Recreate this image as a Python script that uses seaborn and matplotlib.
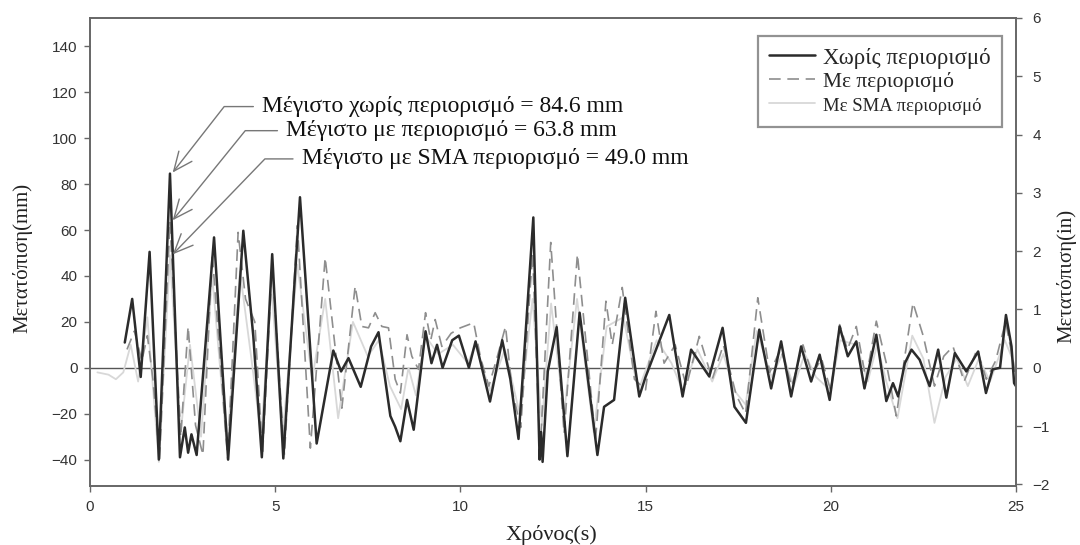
import matplotlib
matplotlib.use("Agg")
import matplotlib.pyplot as plt
import seaborn as sns

# time (s) and displacement (mm)
# Χωρίς περιορισμό
t_free = [
    0.94, 1.14, 1.37, 1.61, 1.86, 2.16, 2.43, 2.56, 2.65, 2.74,
    2.88, 3.35, 3.73, 4.14, 4.41, 4.64, 4.92, 5.22, 5.67, 6.12,
    6.57, 6.78, 6.98, 7.31, 7.59, 7.79, 8.11, 8.24, 8.38, 8.56,
    8.74, 9.06, 9.22, 9.37, 9.52, 9.78, 9.96, 10.23, 10.41, 10.80,
    11.13, 11.35, 11.57, 11.97, 12.14, 12.18, 12.22, 12.36, 12.60, 12.89,
    13.22, 13.70, 13.88, 14.15, 14.45, 14.83, 15.00, 15.64, 16.00, 16.23,
    16.72, 17.08, 17.40, 17.71, 18.07, 18.39, 18.66, 18.93, 19.20, 19.47,
    19.70, 19.97, 20.24, 20.46, 20.69, 20.91, 21.23, 21.50, 21.68, 21.82,
    22.00, 22.18, 22.40, 22.67, 22.90, 23.12, 23.35, 23.66, 23.98, 24.19,
    24.37, 24.57, 24.73, 24.88, 24.95, 25.00]
d_free = [
    11, 30, -4, 50.5, -40, 84.6, -39, -26, -37, -29,
    -38, 56.8, -40, 59.7, 13.7, -39, 49.5, -39.5, 74.3, -33,
    7.5, -1.6, 4.2, -8.3, 9.3, 15.5, -21, -25.7, -32, -14,
    -27, 15.9, 2, 10, 0, 12, 14, 0, 11.5, -14.7,
    12, -5, -31, 65.5, -40, -28, -41, -1.6, 17.7, -38.5,
    24, -38, -17, -14, 30.5, -12.5, -4, 23, -12.5, 7.9,
    -3.8, 17.4, -17, -24, 16.6, -9, 11.5, -12.5, 9.3, -6,
    5.7, -14, 18, 5, 11.5, -9, 14.4, -14.5, -6.7, -12.5,
    2, 7.9, 3.5, -8, 7.9, -13, 6.4, -1.6, 7.1, -11,
    -0.7, 0, 23, 9.3, -6.7, -8]

# Με περιορισμό
t_restr = [
    1.00, 1.20, 1.40, 1.55, 1.70, 1.88, 2.16, 2.45, 2.65, 2.85,
    3.05, 3.30, 3.72, 4.00, 4.20, 4.45, 4.66, 4.92, 5.25, 5.60,
    5.95, 6.35, 6.55, 6.80, 7.16, 7.34, 7.52, 7.70, 7.88, 8.06,
    8.24, 8.38, 8.56, 8.69, 8.87, 9.06, 9.20, 9.32, 9.50, 9.75,
    10.00, 10.36, 10.55, 10.77, 11.00, 11.22, 11.40, 11.63, 11.95, 12.15,
    12.44, 12.80, 13.16, 13.65, 13.93, 14.10, 14.37, 14.70, 15.00, 15.28,
    15.50, 15.80, 16.10, 16.45, 16.80, 17.10, 17.45, 17.70, 18.03, 18.35,
    18.65, 18.95, 19.25, 19.50, 19.75, 20.00, 20.24, 20.45, 20.69, 20.95,
    21.23, 21.50, 21.77, 22.00, 22.22, 22.50, 22.80, 23.05, 23.30, 23.60,
    23.95, 24.20, 24.45, 24.72, 24.90, 25.00]
d_restr = [
    8, 16, 3, 14, -5, -40, 63.8, -30, 18, -25,
    -38, 50, -40, 59, 30, 20, -38, 45, -38, 62,
    -35, 48, 19, -17.6, 35.6, 18, 17.4, 24, 18, 17.4,
    -5, -11, 14.4, 5, -0.7, 24, 12, 21, 9.3, 15,
    17.4, 19.6, 4, -8, 5, 18, -10, -26, 50, -38,
    54.6, -28.6, 49.5, -31.5, 29, 10, 35, -5, -9.6, 24.6,
    2, 10, -8, 13.7, -5, 10, -12, -20, 30.5, -2,
    8, -8, 10, -3, 4, -10, 18.8, 8, 18, -5,
    20.3, 2, -21, 5, 28.3, 13.7, -8, 5, 9.3, -6,
    8, -5, 3, 20, 5, -5]

# Με SMA περιορισμό
t_sma = [
    0.20, 0.50, 0.70, 0.90, 1.10, 1.30, 1.55, 1.86, 2.16, 2.45,
    2.70, 3.00, 3.30, 3.70, 4.05, 4.35, 4.62, 4.90, 5.20, 5.60,
    6.00, 6.35, 6.70, 7.10, 7.50, 7.80, 8.10, 8.40, 8.60, 8.80,
    9.05, 9.40, 9.80, 10.20, 10.40, 10.80, 11.20, 11.60, 11.95, 12.20,
    12.45, 12.80, 13.15, 13.60, 13.95, 14.40, 14.80, 15.30, 15.70, 16.00,
    16.40, 16.80, 17.10, 17.40, 17.70, 18.00, 18.40, 18.70, 19.00, 19.30,
    19.60, 20.00, 20.25, 20.70, 21.00, 21.25, 21.50, 21.80, 22.20, 22.50,
    22.80, 23.10, 23.40, 23.70, 24.00, 24.30, 24.70, 25.00]
d_sma = [
    -2, -3, -5, -2, 10, -6, 22, -41, 49.0, -28,
    10, -30, 40, -35, 42, 5, -30, 35, -30, 45,
    -5, 30, -22, 20, 5, 12, -8, -18, 0, -12,
    14, 6, 10, 2, 10, -10, 8, -20, 30, -25,
    28, -20, 30, -28, 18, 22, -10, 12, 2, -10,
    8, -6, 6, -10, -16, 16, -4, 6, -8, 6,
    -4, -10, 12, 10, -6, 10, -6, -22, 14, 4,
    -24, -4, 4, -8, 4, -6, 12, 0]

labels = ['Χωρίς περιορισμό', 'Με περιορισμό', 'Με SMA περιορισμό']
left_ticks = [-40, -20, 0, 20, 40, 60, 80, 100, 120, 140]
right_ticks = [-2, -1, 0, 1, 2, 3, 4, 5, 6]
x_ticks = [0, 5, 10, 15, 20, 25]
MM_PER_IN = 25.4

sns.set_style("white")
plt.rcParams['font.family'] = ['Liberation Serif', 'DejaVu Serif']

fig = plt.figure(figsize=(10.8, 5.45), dpi=100)
ax = fig.add_axes([0.0833, 0.1083, 0.8574, 0.8587])

sns.lineplot(x=t_sma, y=d_sma, ax=ax, color='#d8d8d8', lw=1.3,
             label=labels[2], estimator=None, sort=False)
sns.lineplot(x=t_restr, y=d_restr, ax=ax, color='#8e8e8e', lw=1.2,
             linestyle=(0, (7, 4)), label=labels[1], estimator=None, sort=False)
sns.lineplot(x=t_free, y=d_free, ax=ax, color='#2b2b2b', lw=1.8,
             label=labels[0], estimator=None, sort=False)

ax.axhline(0, color='#555555', lw=1, zorder=1)

ax.set_xlim(0, 25)
ax.set_ylim(-51.5, 152.4)
ax.set_xticks(x_ticks)
ax.set_yticks(left_ticks)
ax.set_xlabel('')
ax.set_ylabel('')

ax2 = ax.twinx()
ax2.set_ylim(-51.5 / MM_PER_IN, 152.4 / MM_PER_IN)
ax2.set_yticks(right_ticks)

for a in (ax, ax2):
    for sp in a.spines.values():
        sp.set_color('#666666')
        sp.set_linewidth(1.2)
    a.tick_params(direction='out', length=4, width=1, color='#666666',
                  labelcolor='#333333', labelsize=11,
                  labelfontfamily='Liberation Sans')
ax.tick_params(axis='y', left=True, pad=5)
ax.tick_params(axis='x', bottom=True, pad=6)
ax2.tick_params(axis='y', right=True, pad=8)

fig.text(22 / 1080, 1 - 258 / 545, 'Μετατόπιση(mm)', rotation=90,
         ha='center', va='center', fontsize=15, color='#222222')
fig.text(1066 / 1080, 1 - 276 / 545, 'Μετατόπιση(in)', rotation=90,
         ha='center', va='center', fontsize=15, color='#222222')
fig.text(551 / 1080, 1 - 535 / 545, 'Χρόνος(s)',
         ha='center', va='center', fontsize=16, color='#222222')

# legend: black, dashed, SMA order
handles, labs = ax.get_legend_handles_labels()
order = [labs.index(l) for l in labels]
leg = ax.legend([handles[i] for i in order], [labs[i] for i in order],
                loc='upper right', bbox_to_anchor=(0.985, 0.9615),
                borderaxespad=0, frameon=True, fancybox=False,
                edgecolor='#777777', handlelength=2.0, handletextpad=0.35,
                borderpad=0.5, labelspacing=0.12, fontsize=16.5)
leg.get_frame().set_linewidth(1.6)
leg.get_texts()[1].set_fontsize(15.5)
leg.get_texts()[2].set_fontsize(13.5)

# peak annotations
peaks = [
    (t_free[d_free.index(max(d_free))], max(d_free),
     'Μέγιστο χωρίς περιορισμό = {:.1f} mm', 4.65, 113.8, 52),
    (t_restr[d_restr.index(max(d_restr))], max(d_restr),
     'Μέγιστο με περιορισμό = {:.1f} mm', 5.30, 103.3, 51),
    (t_sma[d_sma.index(max(d_sma))], max(d_sma),
     'Μέγιστο με SMA περιορισμό = {:.1f} mm', 5.72, 91.0, 46),
]
for tp, vp, txt, tx, ty, ang in peaks:
    ax.annotate(txt.format(vp), xy=(tp + 0.05, vp), xytext=(tx, ty),
                textcoords='data', ha='left', va='center', fontsize=17,
                color='#111111',
                arrowprops=dict(arrowstyle='->,head_length=0.8,head_width=0.35',
                                color='#777777', lw=1,
                                connectionstyle=f'angle,angleA=0,angleB={ang},rad=0',
                                relpos=(0, 0.5), shrinkA=4, shrinkB=1))

fig.savefig('out.png', dpi=100)
